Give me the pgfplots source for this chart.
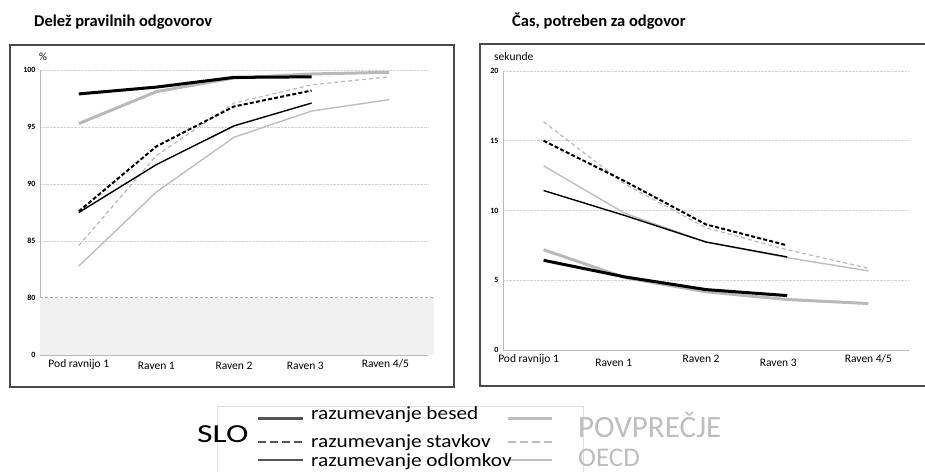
\documentclass[border=0pt]{standalone}
\usepackage{pgfplots}
\pgfplotsset{compat=1.18}
\usepackage{fontspec}
\setmainfont{Carlito}
\definecolor{ogray}{HTML}{B9B9B9}
\definecolor{lgray}{HTML}{BEBEBE}
\definecolor{frame}{HTML}{4A4A4A}
\definecolor{leg}{HTML}{555555}
\begin{document}
\begin{tikzpicture}[x=1pt,y=1pt]
\useasboundingbox (0,0) rectangle (925,471);
\fill[white] (0,0) rectangle (925,471);
\pgfplotsset{
  common/.style={scale only axis, xmin=-0.5, xmax=4.5, clip=false,
    axis x line*=bottom, axis y line*=left,
    axis line style={draw=gray!55, -, line width=0.8pt},
    major tick length=0pt, ymajorgrids,
    grid style={densely dotted, draw=gray!35, line width=0.6pt},
    yticklabel style={font=\fontsize{8}{8}\selectfont\bfseries, xshift=-1pt},
    xticklabel style={font=\fontsize{11.5}{12}\selectfont, text height=8pt, text depth=2.5pt, yshift=-1pt},
    /pgf/number format/assume math mode=true,
  },
  sbesede/.style={black, line width=3pt},
  obesede/.style={ogray, line width=3pt},
  sstavkov/.style={black, line width=2pt, dash pattern=on 4pt off 2.2pt},
  ostavkov/.style={ogray, line width=1.2pt, dash pattern=on 4pt off 3pt},
  sodlomkov/.style={black, line width=1.4pt},
  oodlomkov/.style={lgray, line width=1.4pt},
}
% frames
\draw[frame, line width=1.1pt] (10,426) rectangle (454,84);
\draw[frame, line width=1.1pt] (930,427) -- (480,427) -- (480,85) -- (930,85);
% titles
\node[anchor=base west, inner sep=0pt, font=\fontsize{16.5}{18}\selectfont\bfseries] at (34,444) {Delež pravilnih odgovorov};
\node[anchor=base west, inner sep=0pt, font=\fontsize{16.5}{18}\selectfont\bfseries] at (512,444) {Čas, potreben za odgovor};
\node[font=\fontsize{11}{12}\selectfont] at (43,414) {\%};
\node[anchor=west, inner sep=0pt, font=\fontsize{11.5}{12}\selectfont] at (494,414) {sekunde};

% left chart
\begin{axis}[common, at={(40pt,116pt)}, anchor=south west,
  width=388pt, height=285pt, ymin=75, ymax=100,
  ytick={75,80,85,90,95,100}, yticklabels={0,80,85,90,95,100},
  xtick={0,1,2,2.92,3.95},
  xticklabels={Pod ravnijo 1,\raisebox{-2pt}{Raven 1},\raisebox{-2pt}{Raven 2},\raisebox{-2pt}{Raven 3},Raven 4/5}]
\fill[gray!11] (axis cs:-0.5,75) rectangle (axis cs:4.58,80);
\draw[gray!60, densely dashed, line width=0.7pt] (axis cs:-0.5,80.1) -- (axis cs:4.58,80.1);
\addplot[oodlomkov] coordinates {(0,82.8)(1,89.3)(2,94.1)(3,96.4)(4,97.4)};
\addplot[ostavkov] coordinates {(0,84.6)(1,92.5)(2,97.1)(3,98.7)(4,99.4)};
\addplot[obesede] coordinates {(0,95.3)(1,98.1)(2,99.3)(3,99.65)(4,99.8)};
\addplot[sodlomkov] coordinates {(0,87.5)(1,91.7)(2,95.1)(3,97.1)};
\addplot[sstavkov] coordinates {(0,87.6)(1,93.3)(2,96.8)(3,98.2)};
\addplot[sbesede] coordinates {(0,97.9)(1,98.5)(2,99.35)(3,99.4)};
\end{axis}

% right chart
\begin{axis}[common, at={(503pt,121pt)}, anchor=south west,
  width=406pt, height=279pt, ymin=0, ymax=20,
  ytick={0,5,10,15,20},
  xtick={-0.185,0.864,1.94,2.89,4},
  xticklabels={Pod ravnijo 1,\raisebox{-4pt}{Raven 1},Raven 2,\raisebox{-4pt}{Raven 3},Raven 4/5}]
\addplot[oodlomkov] coordinates {(0,13.2)(1,9.8)(2,7.74)(3,6.62)(4,5.67)};
\addplot[ostavkov] coordinates {(0,16.36)(1,11.9)(2,8.76)(3,7.19)(4,5.86)};
\addplot[obesede] coordinates {(0,7.19)(1,5.19)(2,4.17)(3,3.62)(4,3.33)};
\addplot[sodlomkov] coordinates {(0,11.43)(1,9.64)(2,7.74)(3,6.67)};
\addplot[sstavkov] coordinates {(0,15.0)(1,12.1)(2,9.0)(3,7.5)};
\addplot[sbesede] coordinates {(0,6.43)(1,5.24)(2,4.33)(3,3.9)};
\end{axis}

% legend
\draw[gray!25, line width=0.6pt] (217,-10) -- (217,65) -- (583,65) -- (583,-10);
\node[anchor=base west, inner sep=0pt, font=\fontsize{26}{28}\selectfont] at (197,29) {\scalebox{1.3}[1]{SLO}};
\draw[leg, line width=3pt] (258,53) -- (303,53);
\draw[leg, line width=2pt, dash pattern=on 8pt off 4pt] (258,29) -- (303,29);
\draw[leg, line width=1.2pt] (258,11) -- (303,11);
\draw[lgray, line width=3pt] (508,53) -- (552,53);
\draw[lgray, line width=2pt, dash pattern=on 8pt off 4pt] (508,29) -- (552,29);
\draw[lgray, line width=1.2pt] (508,11) -- (552,11);
\begin{scope}[every node/.style={anchor=base west, inner sep=0pt, font=\fontsize{18.5}{20}\selectfont}]
\node at (311,52) {\scalebox{1.15}[1]{razumevanje besed}};
\node at (311,24) {\scalebox{1.15}[1]{razumevanje stavkov}};
\node at (311,5) {\scalebox{1.15}[1]{razumevanje odlomkov}};
\end{scope}
\node[anchor=base west, inner sep=0pt, text=lgray, font=\fontsize{31}{32}\selectfont] at (578,34) {POVPREČJE};
\node[anchor=base west, inner sep=0pt, text=lgray, font=\fontsize{27}{28}\selectfont] at (578,5) {OECD};
\end{tikzpicture}
\end{document}
